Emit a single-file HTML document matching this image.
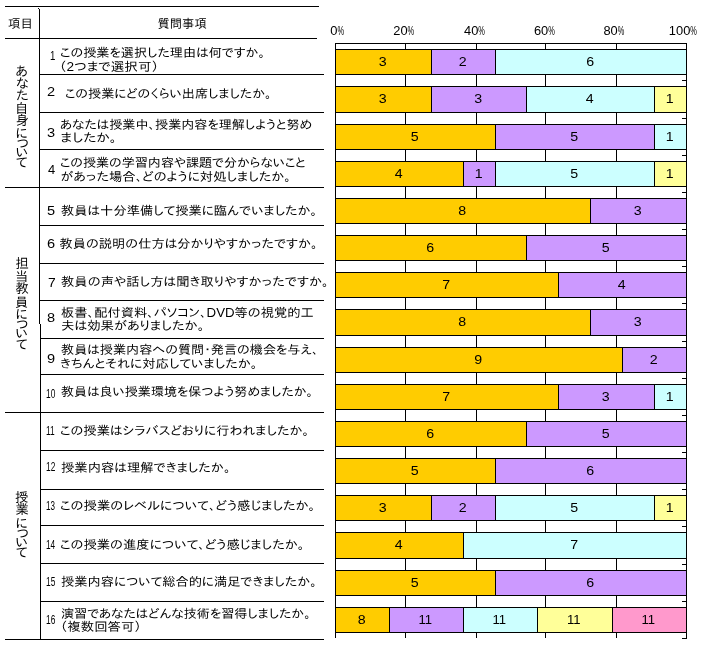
<!DOCTYPE html>
<html lang="ja"><head><meta charset="utf-8"><title>授業アンケート結果</title>
<style>html,body{margin:0;padding:0;background:#fff}svg{display:block;will-change:transform}</style>
</head><body>
<svg width="708" height="654" viewBox="0 0 708 654" shape-rendering="crispEdges">
<rect width="708" height="654" fill="#fff"/>
<g fill="#000">
<rect x="5" y="6" width="314" height="1"/>
<rect x="5" y="38" width="312" height="1"/>
<rect x="38" y="8" width="1" height="1"/>
<rect x="39" y="9" width="1" height="315"/>
<rect x="40" y="324" width="1" height="316"/>
<rect x="39" y="74" width="285" height="1"/>
<rect x="39" y="112" width="285" height="1"/>
<rect x="39" y="149" width="285" height="1"/>
<rect x="5" y="187" width="319" height="1"/>
<rect x="39" y="225" width="285" height="1"/>
<rect x="39" y="263" width="285" height="1"/>
<rect x="39" y="300" width="285" height="1"/>
<rect x="40" y="338" width="284" height="1"/>
<rect x="40" y="374" width="284" height="1"/>
<rect x="5" y="412" width="319" height="1"/>
<rect x="40" y="450" width="284" height="1"/>
<rect x="40" y="489" width="284" height="1"/>
<rect x="40" y="525" width="284" height="1"/>
<rect x="40" y="563" width="284" height="1"/>
<rect x="40" y="601" width="284" height="1"/>
<rect x="5" y="639" width="319" height="1"/>
</g>
<g fill="#000">
<rect x="335" y="43" width="1" height="595"/>
<rect x="405" y="43" width="1" height="595"/>
<rect x="476" y="43" width="1" height="595"/>
<rect x="545" y="43" width="1" height="595"/>
<rect x="616" y="43" width="1" height="595"/>
<rect x="686" y="43" width="1" height="596"/>
<rect x="335" y="43" width="352" height="1"/>
<rect x="682" y="80" width="4" height="1"/>
<rect x="682" y="118" width="4" height="1"/>
<rect x="682" y="155" width="4" height="1"/>
<rect x="682" y="192" width="4" height="1"/>
<rect x="682" y="229" width="4" height="1"/>
<rect x="682" y="266" width="4" height="1"/>
<rect x="682" y="303" width="4" height="1"/>
<rect x="682" y="341" width="4" height="1"/>
<rect x="682" y="378" width="4" height="1"/>
<rect x="682" y="415" width="4" height="1"/>
<rect x="682" y="452" width="4" height="1"/>
<rect x="682" y="489" width="4" height="1"/>
<rect x="682" y="526" width="4" height="1"/>
<rect x="682" y="564" width="4" height="1"/>
<rect x="682" y="601" width="4" height="1"/>
<rect x="682" y="638" width="4" height="1"/>
</g>
<g stroke="#000" stroke-width="1" font-family='"Liberation Sans","IPAPGothic","IPAGothic","Noto Sans CJK JP",sans-serif' font-size="12.5" text-anchor="middle">
<rect x="335.5" y="49.5" width="96" height="25" fill="#FFCC00"/>
<text x="382.7" y="66" textLength="7.9" lengthAdjust="spacingAndGlyphs" stroke="none" fill="#000">3</text>
<rect x="431.5" y="49.5" width="64" height="25" fill="#CC99FF"/>
<text x="462.7" y="66" textLength="7.9" lengthAdjust="spacingAndGlyphs" stroke="none" fill="#000">2</text>
<rect x="495.5" y="49.5" width="191" height="25" fill="#CCFFFF"/>
<text x="590.2" y="66" textLength="7.9" lengthAdjust="spacingAndGlyphs" stroke="none" fill="#000">6</text>
<rect x="335.5" y="86.5" width="96" height="26" fill="#FFCC00"/>
<text x="382.7" y="103" textLength="7.9" lengthAdjust="spacingAndGlyphs" stroke="none" fill="#000">3</text>
<rect x="431.5" y="86.5" width="95" height="26" fill="#CC99FF"/>
<text x="478.2" y="103" textLength="7.9" lengthAdjust="spacingAndGlyphs" stroke="none" fill="#000">3</text>
<rect x="526.5" y="86.5" width="128" height="26" fill="#CCFFFF"/>
<text x="589.7" y="103" textLength="7.9" lengthAdjust="spacingAndGlyphs" stroke="none" fill="#000">4</text>
<rect x="654.5" y="86.5" width="32" height="26" fill="#FFFF99"/>
<text x="669.7" y="103" textLength="7.9" lengthAdjust="spacingAndGlyphs" stroke="none" fill="#000">1</text>
<rect x="335.5" y="124.5" width="160" height="25" fill="#FFCC00"/>
<text x="414.7" y="141" textLength="7.9" lengthAdjust="spacingAndGlyphs" stroke="none" fill="#000">5</text>
<rect x="495.5" y="124.5" width="159" height="25" fill="#CC99FF"/>
<text x="574.2" y="141" textLength="7.9" lengthAdjust="spacingAndGlyphs" stroke="none" fill="#000">5</text>
<rect x="654.5" y="124.5" width="32" height="25" fill="#CCFFFF"/>
<text x="669.7" y="141" textLength="7.9" lengthAdjust="spacingAndGlyphs" stroke="none" fill="#000">1</text>
<rect x="335.5" y="161.5" width="128" height="25" fill="#FFCC00"/>
<text x="398.7" y="178" textLength="7.9" lengthAdjust="spacingAndGlyphs" stroke="none" fill="#000">4</text>
<rect x="463.5" y="161.5" width="32" height="25" fill="#CC99FF"/>
<text x="478.7" y="178" textLength="7.9" lengthAdjust="spacingAndGlyphs" stroke="none" fill="#000">1</text>
<rect x="495.5" y="161.5" width="159" height="25" fill="#CCFFFF"/>
<text x="574.2" y="178" textLength="7.9" lengthAdjust="spacingAndGlyphs" stroke="none" fill="#000">5</text>
<rect x="654.5" y="161.5" width="32" height="25" fill="#FFFF99"/>
<text x="669.7" y="178" textLength="7.9" lengthAdjust="spacingAndGlyphs" stroke="none" fill="#000">1</text>
<rect x="335.5" y="198.5" width="255" height="25" fill="#FFCC00"/>
<text x="462.2" y="215" textLength="7.9" lengthAdjust="spacingAndGlyphs" stroke="none" fill="#000">8</text>
<rect x="590.5" y="198.5" width="96" height="25" fill="#CC99FF"/>
<text x="637.7" y="215" textLength="7.9" lengthAdjust="spacingAndGlyphs" stroke="none" fill="#000">3</text>
<rect x="335.5" y="235.5" width="191" height="25" fill="#FFCC00"/>
<text x="430.2" y="252" textLength="7.9" lengthAdjust="spacingAndGlyphs" stroke="none" fill="#000">6</text>
<rect x="526.5" y="235.5" width="160" height="25" fill="#CC99FF"/>
<text x="605.7" y="252" textLength="7.9" lengthAdjust="spacingAndGlyphs" stroke="none" fill="#000">5</text>
<rect x="335.5" y="272.5" width="223" height="25" fill="#FFCC00"/>
<text x="446.2" y="289" textLength="7.9" lengthAdjust="spacingAndGlyphs" stroke="none" fill="#000">7</text>
<rect x="558.5" y="272.5" width="128" height="25" fill="#CC99FF"/>
<text x="621.7" y="289" textLength="7.9" lengthAdjust="spacingAndGlyphs" stroke="none" fill="#000">4</text>
<rect x="335.5" y="309.5" width="255" height="26" fill="#FFCC00"/>
<text x="462.2" y="326" textLength="7.9" lengthAdjust="spacingAndGlyphs" stroke="none" fill="#000">8</text>
<rect x="590.5" y="309.5" width="96" height="26" fill="#CC99FF"/>
<text x="637.7" y="326" textLength="7.9" lengthAdjust="spacingAndGlyphs" stroke="none" fill="#000">3</text>
<rect x="335.5" y="347.5" width="287" height="25" fill="#FFCC00"/>
<text x="478.2" y="364" textLength="7.9" lengthAdjust="spacingAndGlyphs" stroke="none" fill="#000">9</text>
<rect x="622.5" y="347.5" width="64" height="25" fill="#CC99FF"/>
<text x="653.7" y="364" textLength="7.9" lengthAdjust="spacingAndGlyphs" stroke="none" fill="#000">2</text>
<rect x="335.5" y="384.5" width="223" height="25" fill="#FFCC00"/>
<text x="446.2" y="401" textLength="7.9" lengthAdjust="spacingAndGlyphs" stroke="none" fill="#000">7</text>
<rect x="558.5" y="384.5" width="96" height="25" fill="#CC99FF"/>
<text x="605.7" y="401" textLength="7.9" lengthAdjust="spacingAndGlyphs" stroke="none" fill="#000">3</text>
<rect x="654.5" y="384.5" width="32" height="25" fill="#CCFFFF"/>
<text x="669.7" y="401" textLength="7.9" lengthAdjust="spacingAndGlyphs" stroke="none" fill="#000">1</text>
<rect x="335.5" y="421.5" width="191" height="25" fill="#FFCC00"/>
<text x="430.2" y="438" textLength="7.9" lengthAdjust="spacingAndGlyphs" stroke="none" fill="#000">6</text>
<rect x="526.5" y="421.5" width="160" height="25" fill="#CC99FF"/>
<text x="605.7" y="438" textLength="7.9" lengthAdjust="spacingAndGlyphs" stroke="none" fill="#000">5</text>
<rect x="335.5" y="458.5" width="160" height="25" fill="#FFCC00"/>
<text x="414.7" y="475" textLength="7.9" lengthAdjust="spacingAndGlyphs" stroke="none" fill="#000">5</text>
<rect x="495.5" y="458.5" width="191" height="25" fill="#CC99FF"/>
<text x="590.2" y="475" textLength="7.9" lengthAdjust="spacingAndGlyphs" stroke="none" fill="#000">6</text>
<rect x="335.5" y="495.5" width="96" height="25" fill="#FFCC00"/>
<text x="382.7" y="512" textLength="7.9" lengthAdjust="spacingAndGlyphs" stroke="none" fill="#000">3</text>
<rect x="431.5" y="495.5" width="64" height="25" fill="#CC99FF"/>
<text x="462.7" y="512" textLength="7.9" lengthAdjust="spacingAndGlyphs" stroke="none" fill="#000">2</text>
<rect x="495.5" y="495.5" width="159" height="25" fill="#CCFFFF"/>
<text x="574.2" y="512" textLength="7.9" lengthAdjust="spacingAndGlyphs" stroke="none" fill="#000">5</text>
<rect x="654.5" y="495.5" width="32" height="25" fill="#FFFF99"/>
<text x="669.7" y="512" textLength="7.9" lengthAdjust="spacingAndGlyphs" stroke="none" fill="#000">1</text>
<rect x="335.5" y="532.5" width="128" height="26" fill="#FFCC00"/>
<text x="398.7" y="549" textLength="7.9" lengthAdjust="spacingAndGlyphs" stroke="none" fill="#000">4</text>
<rect x="463.5" y="532.5" width="223" height="26" fill="#CCFFFF"/>
<text x="574.2" y="549" textLength="7.9" lengthAdjust="spacingAndGlyphs" stroke="none" fill="#000">7</text>
<rect x="335.5" y="570.5" width="160" height="25" fill="#FFCC00"/>
<text x="414.7" y="587" textLength="7.9" lengthAdjust="spacingAndGlyphs" stroke="none" fill="#000">5</text>
<rect x="495.5" y="570.5" width="191" height="25" fill="#CC99FF"/>
<text x="590.2" y="587" textLength="7.9" lengthAdjust="spacingAndGlyphs" stroke="none" fill="#000">6</text>
<rect x="335.5" y="607.5" width="54" height="25" fill="#FFCC00"/>
<text x="361.7" y="624" textLength="7.9" lengthAdjust="spacingAndGlyphs" stroke="none" fill="#000">8</text>
<rect x="389.5" y="607.5" width="74" height="25" fill="#CC99FF"/>
<text x="425.2" y="624" textLength="13.6" lengthAdjust="spacingAndGlyphs" stroke="none" fill="#000">11</text>
<rect x="463.5" y="607.5" width="74" height="25" fill="#CCFFFF"/>
<text x="499.2" y="624" textLength="13.6" lengthAdjust="spacingAndGlyphs" stroke="none" fill="#000">11</text>
<rect x="537.5" y="607.5" width="75" height="25" fill="#FFFF99"/>
<text x="573.7" y="624" textLength="13.6" lengthAdjust="spacingAndGlyphs" stroke="none" fill="#000">11</text>
<rect x="612.5" y="607.5" width="74" height="25" fill="#FF99CC"/>
<text x="648.2" y="624" textLength="13.6" lengthAdjust="spacingAndGlyphs" stroke="none" fill="#000">11</text>
</g>
<g font-family='"Liberation Sans","IPAPGothic","IPAGothic","Noto Sans CJK JP",sans-serif' fill="#000">
<text x="8.0" y="27.8" font-size="12.3" textLength="24.8" lengthAdjust="spacingAndGlyphs">項目</text>
<text x="157.5" y="27.9" font-size="12.3" textLength="49.2" lengthAdjust="spacingAndGlyphs">質問事項</text>
<text x="60.0" y="56.9" font-size="12.3" textLength="205.1" lengthAdjust="spacingAndGlyphs">この授業を選択した理由は何ですか。</text>
<text x="59.0" y="71.2" font-size="12.3" textLength="100.1" lengthAdjust="spacingAndGlyphs">（2つまで選択可）</text>
<text x="65.0" y="98.0" font-size="12.3" textLength="206.6" lengthAdjust="spacingAndGlyphs">この授業にどのくらい出席しましたか。</text>
<text x="60.0" y="128.7" font-size="12.3" textLength="252.3" lengthAdjust="spacingAndGlyphs">あなたは授業中、授業内容を理解しようと努め</text>
<text x="60.5" y="142.4" font-size="12.3" textLength="56.3" lengthAdjust="spacingAndGlyphs">ましたか。</text>
<text x="60.0" y="166.7" font-size="12.3" textLength="245.7" lengthAdjust="spacingAndGlyphs">この授業の学習内容や課題で分からないこと</text>
<text x="60.5" y="180.8" font-size="12.3" textLength="230.5" lengthAdjust="spacingAndGlyphs">があった場合、どのように対処しましたか。</text>
<text x="61.0" y="215.3" font-size="12.3" textLength="256.2" lengthAdjust="spacingAndGlyphs">教員は十分準備して授業に臨んでいましたか。</text>
<text x="59.5" y="248.4" font-size="12.3" textLength="258.1" lengthAdjust="spacingAndGlyphs">教員の説明の仕方は分かりやすかったですか。</text>
<text x="61.0" y="286.4" font-size="12.3" textLength="267.7" lengthAdjust="spacingAndGlyphs">教員の声や話し方は聞き取りやすかったですか。</text>
<text x="61.0" y="316.9" font-size="12.3" textLength="252.7" lengthAdjust="spacingAndGlyphs">板書、配付資料、パソコン、DVD等の視覚的工</text>
<text x="61.0" y="330.2" font-size="12.3" textLength="143.4" lengthAdjust="spacingAndGlyphs">夫は効果がありましたか。</text>
<text x="61.0" y="354.1" font-size="12.3" textLength="257.6" lengthAdjust="spacingAndGlyphs">教員は授業内容への質問・発言の機会を与え、</text>
<text x="60.0" y="367.7" font-size="12.3" textLength="197.5" lengthAdjust="spacingAndGlyphs">きちんとそれに対応していましたか。</text>
<text x="61.0" y="396.4" font-size="12.3" textLength="252.0" lengthAdjust="spacingAndGlyphs">教員は良い授業環境を保つよう努めましたか。</text>
<text x="60.0" y="435.4" font-size="12.3" textLength="249.1" lengthAdjust="spacingAndGlyphs">この授業はシラバスどおりに行われましたか。</text>
<text x="61.0" y="471.6" font-size="12.3" textLength="169.6" lengthAdjust="spacingAndGlyphs">授業内容は理解できましたか。</text>
<text x="60.0" y="510.4" font-size="12.3" textLength="255.3" lengthAdjust="spacingAndGlyphs">この授業のレベルについて、どう感じましたか。</text>
<text x="60.0" y="548.7" font-size="12.3" textLength="244.4" lengthAdjust="spacingAndGlyphs">この授業の進度について、どう感じましたか。</text>
<text x="61.0" y="585.8" font-size="12.3" textLength="255.8" lengthAdjust="spacingAndGlyphs">授業内容について総合的に満足できましたか。</text>
<text x="61.0" y="618.1" font-size="12.3" textLength="249.7" lengthAdjust="spacingAndGlyphs">演習であなたはどんな技術を習得しましたか。</text>
<text x="60.0" y="631.3" font-size="12.3" textLength="81.7" lengthAdjust="spacingAndGlyphs">（複数回答可）</text>
<text x="15.6" y="76.1" font-size="13.3">あ</text>
<text x="15.9" y="87.9" font-size="13.3">な</text>
<text x="15.9" y="100.4" font-size="13.3">た</text>
<text x="15.1" y="113.1" font-size="13.3">自</text>
<text x="15.4" y="125.4" font-size="13.3">身</text>
<text x="15.6" y="137.7" font-size="13.3">に</text>
<text x="16.4" y="148.4" font-size="13.3">つ</text>
<text x="15.7" y="157.4" font-size="13.3">い</text>
<text x="16.1" y="167.2" font-size="13.3">て</text>
<text x="15.4" y="268.1" font-size="13.3">担</text>
<text x="15.1" y="280.9" font-size="13.3">当</text>
<text x="15.4" y="293.4" font-size="13.3">教</text>
<text x="15.1" y="306.6" font-size="13.3">員</text>
<text x="15.4" y="318.9" font-size="13.3">に</text>
<text x="15.9" y="328.9" font-size="13.3">つ</text>
<text x="15.6" y="338.4" font-size="13.3">い</text>
<text x="16.1" y="348.8" font-size="13.3">て</text>
<text x="15.0" y="501.7" font-size="13.3">授</text>
<text x="15.4" y="514.4" font-size="13.3">業</text>
<text x="15.6" y="527.9" font-size="13.3">に</text>
<text x="16.4" y="537.6" font-size="13.3">つ</text>
<text x="15.6" y="547.2" font-size="13.3">い</text>
<text x="16.1" y="557.0" font-size="13.3">て</text>
</g>
<g font-family='"Liberation Sans","IPAPGothic","IPAGothic","Noto Sans CJK JP",sans-serif' fill="#000">
<text x="50.0" y="59.5" font-size="12.5" textLength="5.4" lengthAdjust="spacingAndGlyphs">1</text>
<text x="47.0" y="96.0" font-size="12.5" textLength="8.1" lengthAdjust="spacingAndGlyphs">2</text>
<text x="47.0" y="137.0" font-size="12.5" textLength="8.1" lengthAdjust="spacingAndGlyphs">3</text>
<text x="48.0" y="173.5" font-size="12.5" textLength="7.2" lengthAdjust="spacingAndGlyphs">4</text>
<text x="47.0" y="215.2" font-size="12.5" textLength="8.1" lengthAdjust="spacingAndGlyphs">5</text>
<text x="47.0" y="247.7" font-size="12.5" textLength="8.1" lengthAdjust="spacingAndGlyphs">6</text>
<text x="48.0" y="286.5" font-size="12.5" textLength="7.7" lengthAdjust="spacingAndGlyphs">7</text>
<text x="47.0" y="322.3" font-size="12.5" textLength="8.1" lengthAdjust="spacingAndGlyphs">8</text>
<text x="47.0" y="362.5" font-size="12.5" textLength="8.1" lengthAdjust="spacingAndGlyphs">9</text>
<text x="46.0" y="397.5" font-size="12.5" textLength="9.3" lengthAdjust="spacingAndGlyphs">10</text>
<text x="46.0" y="435.0" font-size="12.5" textLength="8.7" lengthAdjust="spacingAndGlyphs">11</text>
<text x="46.0" y="471.0" font-size="12.5" textLength="9.3" lengthAdjust="spacingAndGlyphs">12</text>
<text x="46.0" y="510.0" font-size="12.5" textLength="9.0" lengthAdjust="spacingAndGlyphs">13</text>
<text x="46.0" y="548.8" font-size="12.5" textLength="9.2" lengthAdjust="spacingAndGlyphs">14</text>
<text x="46.0" y="586.0" font-size="12.5" textLength="9.3" lengthAdjust="spacingAndGlyphs">15</text>
<text x="46.0" y="624.2" font-size="12.5" textLength="9.3" lengthAdjust="spacingAndGlyphs">16</text>
<text x="330.3" y="35" font-size="12.5"><tspan textLength="7.2" lengthAdjust="spacingAndGlyphs">0</tspan><tspan textLength="6.6" lengthAdjust="spacingAndGlyphs">%</tspan></text>
<text x="393.3" y="35" font-size="12.5"><tspan textLength="14.3" lengthAdjust="spacingAndGlyphs">20</tspan><tspan textLength="6.6" lengthAdjust="spacingAndGlyphs">%</tspan></text>
<text x="464.0" y="35" font-size="12.5"><tspan textLength="14.3" lengthAdjust="spacingAndGlyphs">40</tspan><tspan textLength="6.6" lengthAdjust="spacingAndGlyphs">%</tspan></text>
<text x="533.9" y="35" font-size="12.5"><tspan textLength="14.3" lengthAdjust="spacingAndGlyphs">60</tspan><tspan textLength="6.6" lengthAdjust="spacingAndGlyphs">%</tspan></text>
<text x="603.4" y="35" font-size="12.5"><tspan textLength="14.3" lengthAdjust="spacingAndGlyphs">80</tspan><tspan textLength="6.6" lengthAdjust="spacingAndGlyphs">%</tspan></text>
<text x="668.8" y="35" font-size="12.5"><tspan textLength="21.5" lengthAdjust="spacingAndGlyphs">100</tspan><tspan textLength="6.6" lengthAdjust="spacingAndGlyphs">%</tspan></text>
</g>
</svg>
</body></html>
